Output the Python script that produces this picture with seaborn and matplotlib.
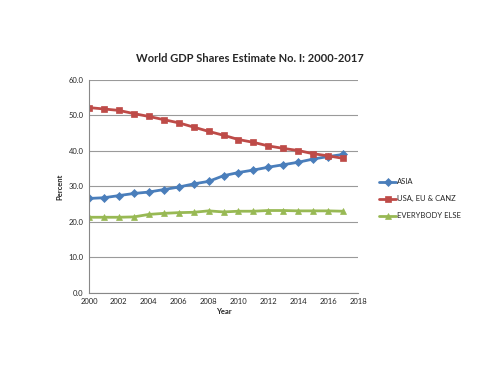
import matplotlib
matplotlib.use("Agg")
import matplotlib.pyplot as plt
import numpy as np
import pandas as pd
import seaborn as sns

# Data
years = list(range(2000, 2018))
asia = [26.6, 26.8, 27.4, 28.0, 28.4, 29.1, 29.8, 30.7, 31.4, 33.0,
        33.9, 34.6, 35.4, 36.1, 36.8, 37.7, 38.4, 39.0]
west = [52.2, 51.8, 51.4, 50.5, 49.7, 48.8, 47.9, 46.7, 45.5, 44.4,
        43.2, 42.4, 41.4, 40.7, 40.1, 39.2, 38.6, 37.9]
rest = [21.3, 21.3, 21.3, 21.4, 22.1, 22.4, 22.6, 22.7, 23.1, 22.8,
        23.0, 23.0, 23.2, 23.2, 23.1, 23.1, 23.1, 23.0]
series_names = ["ASIA", "USA, EU & CANZ", "EVERYBODY ELSE"]
x_ticks = list(range(2000, 2019, 2))
y_ticks = [0, 10, 20, 30, 40, 50, 60]

df = pd.DataFrame({
    "Year": years * 3,
    "Percent": asia + west + rest,
    "Series": np.repeat(series_names, len(years)),
})

sns.set_style("white")
plt.rcParams['font.family'] = ['Lato', 'DejaVu Sans']

fig = plt.figure(figsize=(5, 3.75), dpi=100)
ax = fig.add_axes([0.178, 0.219, 0.538, 0.568])

palette = {"ASIA": "#4A7EBB", "USA, EU & CANZ": "#BE4B48", "EVERYBODY ELSE": "#98B954"}
markers = {"ASIA": "D", "USA, EU & CANZ": "s", "EVERYBODY ELSE": "^"}
sns.lineplot(data=df, x="Year", y="Percent", hue="Series", style="Series",
             palette=palette, markers=markers, dashes=False, linewidth=2.0,
             markersize=3.8, markeredgewidth=0.5, ax=ax)
for line in ax.lines:
    line.set_markeredgecolor(line.get_color())

ax.set_xlim(2000, 2018)
ax.set_ylim(0, 60)
ax.set_xticks(x_ticks)
ax.set_yticks(y_ticks)
ax.set_yticklabels([f"{v:.1f}" for v in y_ticks])
ax.tick_params(axis="both", labelsize=5.5, length=2, color="#888888", pad=2)
ax.yaxis.grid(True, color="#9a9a9a", linewidth=0.8)
ax.xaxis.grid(False)
for side in ["top", "right"]:
    ax.spines[side].set_visible(False)
for side in ["left", "bottom"]:
    ax.spines[side].set_color("#888888")
    ax.spines[side].set_linewidth(0.8)

ax.set_xlabel("Year", fontsize=5.5, fontweight="bold", labelpad=2)
ax.set_ylabel("Percent", fontsize=5.5, fontweight="bold", labelpad=4)
fig.suptitle("World GDP Shares Estimate No. I: 2000-2017", x=0.5, y=0.86,
             fontsize=8, fontweight="bold")

handles, labels = ax.get_legend_handles_labels()
ax.legend(handles, labels, loc="center left", bbox_to_anchor=(0.745, 0.47),
          bbox_transform=fig.transFigure, frameon=False, fontsize=5.5,
          handlelength=2.2, handletextpad=0.1, labelspacing=1.3)

fig.savefig("out.png", dpi=100)
